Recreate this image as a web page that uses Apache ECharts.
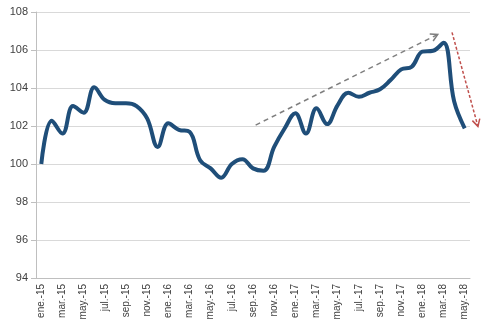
<!DOCTYPE html>
<html><head><meta charset="utf-8">
<script src="https://cdn.jsdelivr.net/npm/echarts@6/dist/echarts.min.js"></script>
<style>html,body{margin:0;padding:0;background:#fff}#c{width:485px;height:326px}</style>
</head><body><div id="c"></div>
<script>
var categories = ['ene.-15','feb.-15','mar.-15','abr.-15','may.-15','jun.-15','jul.-15','ago.-15','sep.-15','oct.-15','nov.-15','dic.-15',
 'ene.-16','feb.-16','mar.-16','abr.-16','may.-16','jun.-16','jul.-16','ago.-16','sep.-16','oct.-16','nov.-16','dic.-16',
 'ene.-17','feb.-17','mar.-17','abr.-17','may.-17','jun.-17','jul.-17','ago.-17','sep.-17','oct.-17','nov.-17','dic.-17',
 'ene.-18','feb.-18','mar.-18','abr.-18','may.-18'];
var values = [100.0,102.28,101.6,103.05,102.7,104.04,103.37,103.2,103.2,103.05,102.4,100.9,
 102.14,101.8,101.7,100.2,99.77,99.28,100.0,100.25,99.77,99.65,100.9,101.88,
 102.67,101.6,102.93,102.1,103.1,103.75,103.54,103.75,103.93,104.42,104.98,105.12,
 105.91,105.96,106.38,103.3,101.88];
var yTicks = [94,96,98,100,102,104,106,108];
// arrow annotations: [categoryIndex, value] start -> end
var upArrow = [[20.25,102.05],[37.45,106.82]];
var downArrow = [[38.8,106.93],[41.25,101.98]];

var chart = echarts.init(document.getElementById('c'));
chart.setOption({
  animation:false,
  grid:{left:36,right:15,top:12,bottom:48},
  xAxis:{type:'category',data:categories,boundaryGap:true,
    axisLine:{lineStyle:{color:'#bfbfbf'}},
    axisTick:{interval:1,length:5,lineStyle:{color:'#bfbfbf'}},
    axisLabel:{interval:1,rotate:90,color:'#404040',fontSize:10,fontFamily:'Liberation Sans, Arial',margin:6}},
  yAxis:{type:'value',min:yTicks[0],max:yTicks[yTicks.length-1],interval:2,
    axisLine:{show:true,lineStyle:{color:'#bfbfbf'}},
    axisTick:{show:true,length:5,lineStyle:{color:'#bfbfbf'}},
    splitLine:{lineStyle:{color:'#d9d9d9',width:1}},
    axisLabel:{color:'#404040',fontSize:11,fontFamily:'Liberation Sans, Arial',margin:8}},
  series:[{type:'line',data:values,smooth:0.4,symbol:'none',
    lineStyle:{color:'#1f4e79',width:4}}]
});

function px(p){
  var a = chart.convertToPixel({gridIndex:0},[0,p[1]]);
  var b = chart.convertToPixel({gridIndex:0},[1,p[1]]);
  return [a[0]+(b[0]-a[0])*p[0], a[1]];
}
function arrow(pts,color,dash){
  var s = px(pts[0]), e = px(pts[1]);
  var ang = Math.atan2(e[1]-s[1], e[0]-s[0]);
  var h = 8, w = 0.5;
  var l = [e[0]-h*Math.cos(ang-w), e[1]-h*Math.sin(ang-w)];
  var r = [e[0]-h*Math.cos(ang+w), e[1]-h*Math.sin(ang+w)];
  return [
    {type:'line',shape:{x1:s[0],y1:s[1],x2:e[0],y2:e[1]},style:{stroke:color,lineWidth:1.5,lineDash:dash},z:10},
    {type:'polyline',shape:{points:[l,e,r]},style:{stroke:color,lineWidth:1.5,fill:null},z:10}
  ];
}
chart.setOption({graphic:arrow(upArrow,'#7f7f7f',[5,4]).concat(arrow(downArrow,'#c0504d',[3,2]))});
</script></body></html>
